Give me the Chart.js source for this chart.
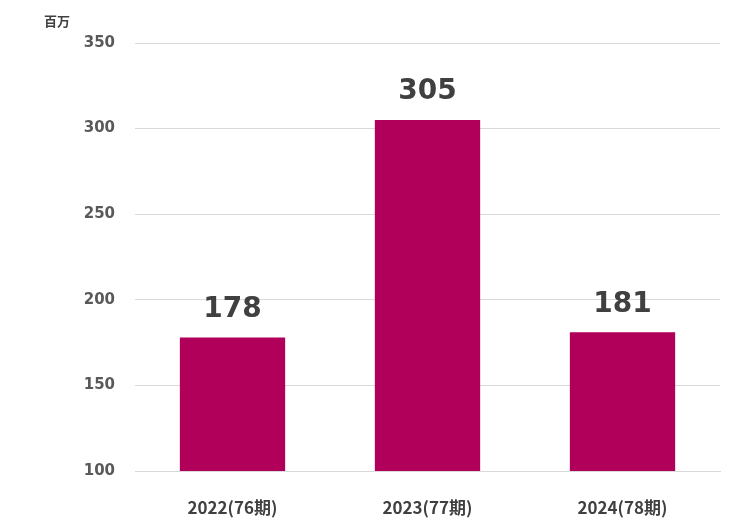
<!DOCTYPE html>
<html>
<head>
<meta charset="utf-8">
<script src="https://cdn.jsdelivr.net/npm/chart.js@4"></script>
<style>
  html, body { margin: 0; padding: 0; background: #fff; }
  #wrap { position: relative; width: 745px; height: 525px; }
  #unit { position: absolute; left: 44px; top: 11px; font: bold 13px "Noto Sans CJK JP"; color: #404040; }
</style>
</head>
<body>
<div id="wrap">
  <canvas id="c" width="745" height="525"></canvas>
  <div id="unit">百万</div>
</div>
<script>
// 카테고리와 값
const categories = ['2022(76期)', '2023(77期)', '2024(78期)'];
const values = [178, 305, 181];
const yTicks = [100, 150, 200, 250, 300, 350];

// 막대 위 숫자 표시
const valueLabels = {
  id: 'valueLabels',
  afterDatasetsDraw(chart) {
    const ctx = chart.ctx;
    const meta = chart.getDatasetMeta(0);
    ctx.save();
    ctx.font = 'bold 28px Verdana, "DejaVu Sans"';
    ctx.fillStyle = '#404040';
    ctx.textAlign = 'center';
    ctx.textBaseline = 'bottom';
    meta.data.forEach((bar, i) => {
      ctx.fillText(values[i], bar.x, bar.y - 14);
    });
    ctx.restore();
  }
};

new Chart(document.getElementById('c'), {
  type: 'bar',
  plugins: [valueLabels],
  data: {
    labels: categories,
    datasets: [{
      data: values,
      backgroundColor: '#B0005A',
      barPercentage: 0.54,
      categoryPercentage: 1
    }]
  },
  options: {
    responsive: false,
    animation: false,
    layout: { padding: { top: 43, right: 25, left: 0, bottom: 0 } },
    plugins: { legend: { display: false }, tooltip: { enabled: false } },
    scales: {
      y: {
        min: 100, max: 350,
        afterBuildTicks: s => { s.ticks = yTicks.map(v => ({ value: v })); },
        afterFit: s => { s.width = 135; },
        border: { display: false },
        grid: { color: '#d9d9d9', drawTicks: false },
        ticks: { padding: 20, color: '#595959', font: { family: 'Verdana, "DejaVu Sans"', size: 15, weight: 'bold' } }
      },
      x: {
        afterFit: s => { s.height = 54; },
        border: { color: '#d9d9d9' },
        grid: { display: false },
        ticks: { padding: 18, color: '#404040', font: { family: 'Verdana, "Noto Sans CJK JP"', size: 17, weight: 'bold' } }
      }
    }
  }
});
</script>
</body>
</html>
